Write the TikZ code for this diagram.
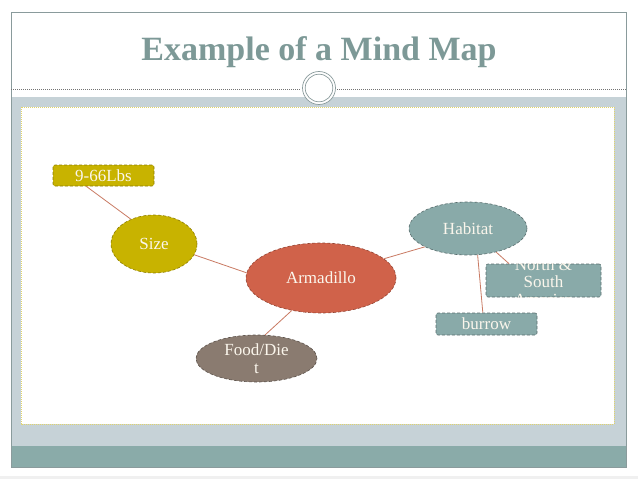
\documentclass[tikz,border=0pt]{standalone}
\usepackage{fontspec}
\setmainfont{Liberation Serif}
\usetikzlibrary{shapes.geometric}
\definecolor{framec}{HTML}{8A9B9C}
\definecolor{bandc}{HTML}{C6D2D7}
\definecolor{tealc}{HTML}{8AABA9}
\definecolor{titlec}{HTML}{7D9997}
\definecolor{yellowdot}{HTML}{E2D46A}
\definecolor{olivec}{HTML}{C8B300}
\definecolor{redc}{HTML}{D0624A}
\definecolor{habc}{HTML}{89AAA9}
\definecolor{brownc}{HTML}{8A7B70}
\definecolor{linkc}{HTML}{C97A63}
\definecolor{txtc}{HTML}{FBF6EC}
\tikzset{
  nd/.style={inner sep=0pt, densely dashed, line width=0.6pt, text=txtc,
    font=\fontsize{17}{18}\selectfont, align=center},
  olivenode/.style={nd, fill=olivec, draw=olivec!70!black},
  rednode/.style={nd, fill=redc, draw=redc!70!black},
  habnode/.style={nd, fill=habc, draw=habc!65!black},
  brownnode/.style={nd, fill=brownc, draw=brownc!65!black},
  boxnode/.style={rectangle, rounded corners=2pt},
  ellnode/.style={ellipse},
  txtnode/.style={inner sep=0pt, text=txtc, font=\fontsize{17}{18}\selectfont, align=center},
  link/.style={draw=linkc, line width=0.8pt}
}
\begin{document}
\begin{tikzpicture}[x=1pt,y=-1pt]
\useasboundingbox (0,0) rectangle (638,479);
\fill[white] (0,0) rectangle (638,479);
\fill[black!6] (0,476) rectangle (638,479);
% slide frame
\fill[bandc] (11,97) rectangle (626,446);
\fill[tealc] (11,446) rectangle (626,467);
\fill[white] (319,84) circle (19pt);
\draw[framec, line width=0.8pt] (11,12) rectangle (626,467);
\draw[black!55, line width=0.6pt, dash pattern=on 1pt off 1pt] (11,89) -- (301,89);
\draw[black!55, line width=0.6pt, dash pattern=on 1pt off 1pt] (337,89) -- (626,89);
\filldraw[fill=white, draw=yellowdot, line width=0.8pt, dash pattern=on 1pt off 1pt] (21,107) rectangle (614,424);
\filldraw[fill=white, draw=framec, line width=0.7pt] (319,88) circle (16.5pt);
\draw[framec, line width=0.7pt] (319,88) circle (13.8pt);
% title
\node[anchor=base, text=titlec, font=\fontsize{34}{36}\selectfont\bfseries] (title) at (319,60) {Example of a Mind Map};
% nodes
\node[olivenode, boxnode, minimum width=101pt, minimum height=21pt] (lbs) at (103.5,175.5) {9-66Lbs};
\node[olivenode, ellnode, minimum width=86pt, minimum height=58pt] (size) at (154,244) {Size};
\node[rednode, ellnode, minimum width=150pt, minimum height=70pt] (arm) at (321,278) {Armadillo};
\node[habnode, ellnode, minimum width=118pt, minimum height=53pt] (hab) at (468,228.5) {Habitat};
\node[habnode, boxnode, minimum width=115pt, minimum height=33pt] (nsa) at (543.5,280.5) {};
\node[habnode, boxnode, minimum width=101pt, minimum height=22pt] (bur) at (486.5,324) {burrow};
\node[brownnode, ellnode, minimum width=121pt, minimum height=47pt] (food) at (256.5,358.5) {};
\node[txtnode] (foodtxt) at (256.5,359) {Food/Die\\t};
\begin{scope}
  \clip (nsa.south west) rectangle (nsa.north east);
  \node[txtnode, font=\fontsize{17}{17.5}\selectfont] (nsatxt) at (543.5,282) {North \&\\South\\America};
\end{scope}
% connectors
\draw[link] (lbs.212) -- (size.133);
\draw[link] (size.-15) -- (arm.176);
\draw[link] (arm.17) -- (hab.203);
\draw[link] (hab.-70) -- (bur.108);
\draw[link] (hab.-40) -- (nsa.154);
\draw[link] (food.70) -- (arm.228);
\end{tikzpicture}
\end{document}
